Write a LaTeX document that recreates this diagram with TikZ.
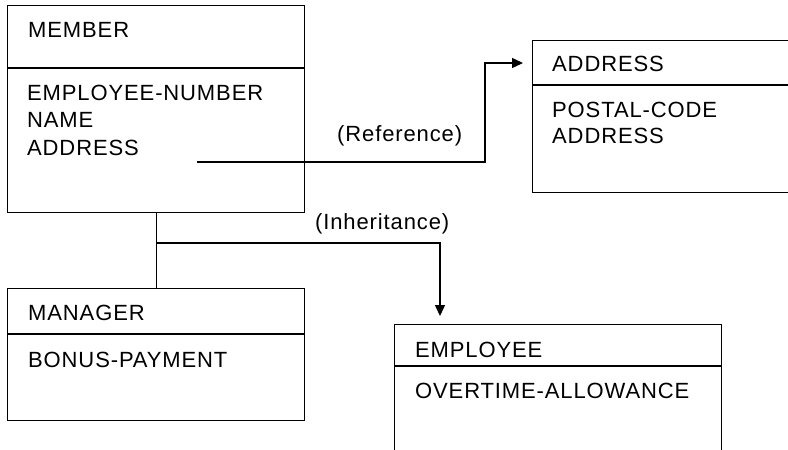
\documentclass[tikz,border=0pt]{standalone}
\usepackage{fontspec}
\setmainfont[LetterSpace=4]{Liberation Sans}
\usetikzlibrary{arrows.meta}
\begin{document}
\begin{tikzpicture}[x=1pt,y=-1pt,
  box/.style={draw=black,line width=1.4pt,rectangle,anchor=north west,inner sep=0pt},
  txt/.style={anchor=base west,inner sep=0pt,font=\fontsize{22}{26}\selectfont},
  conn/.style={draw=black,line width=1.4pt},
  arr/.style={conn,-{Triangle[length=11pt,width=10pt]}}]
\useasboundingbox[fill=white] (0,0) rectangle (788,450);
% boxes
\node[box,minimum width=297pt,minimum height=207pt] (member) at (7,5) {};
\node[box,minimum width=297pt,minimum height=132pt] (manager) at (7,288) {};
\node[box,minimum width=262pt,minimum height=152pt] (address) at (532,40) {};
\node[box,minimum width=327pt,minimum height=140pt] (employee) at (394,324) {};
% dividers
\draw[conn] (member.west |- 0,68) -- (member.east |- 0,68);
\draw[conn] (address.west |- 0,85) -- (address.east |- 0,85);
\draw[conn] (manager.west |- 0,334) -- (manager.east |- 0,334);
\draw[conn] (employee.west |- 0,366) -- (employee.east |- 0,366);
% texts
\node[txt] (tmember) at (28,37) {MEMBER};
\node[txt] (tempno) at (27,100) {EMPLOYEE-NUMBER};
\node[txt] (tname) at (27,127) {NAME};
\node[txt] (taddr) at (27,155) {ADDRESS};
\node[txt] (taddress) at (552,71) {ADDRESS};
\node[txt] (tpostal) at (552,117) {POSTAL-CODE};
\node[txt] (taddr2) at (552,143) {ADDRESS};
\node[txt] (tmanager) at (28,320) {MANAGER};
\node[txt] (tbonus) at (28,367) {BONUS-PAYMENT};
\node[txt] (temployee) at (415,357) {EMPLOYEE};
\node[txt] (tovertime) at (415,398) {OVERTIME-ALLOWANCE};
\node[txt] (lref) at (337,141) {(Reference)};
\node[txt] (linh) at (315,229) {(Inheritance)};
% reference connector
\coordinate (refstart) at (197,162);
\coordinate (refmid) at (485,63);
\coordinate (refend) at (523,63);
\draw[arr] (refstart) -| (refmid) -- (refend);
% inheritance connector
\draw[conn] (member.south) -- (manager.north);
\coordinate (junc) at (member.south |- 0,243);
\coordinate (inhend) at (440,316);
\draw[arr] (junc) -| (inhend);
\end{tikzpicture}
\end{document}
